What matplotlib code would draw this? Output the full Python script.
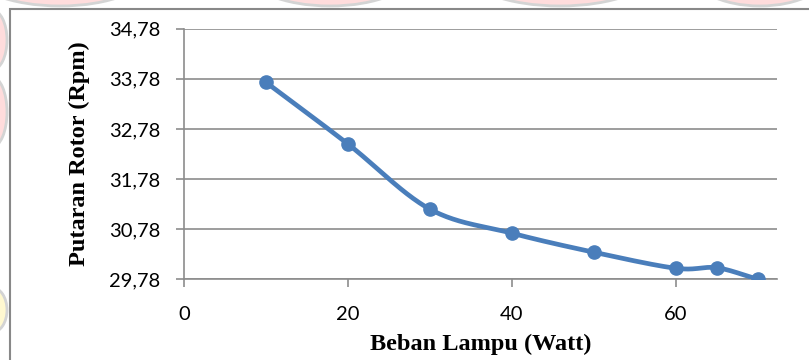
import numpy as np
import matplotlib
matplotlib.use("Agg")
import matplotlib.pyplot as plt
from matplotlib.patches import Rectangle, Ellipse

# Beban lampu (Watt) vs putaran rotor (Rpm)
beban = [10, 20, 30, 40, 50, 60, 65, 70]
putaran = [33.71, 32.48, 31.18, 30.70, 30.32, 30.00, 30.01, 29.78]
y_ticks = [29.78, 30.78, 31.78, 32.78, 33.78, 34.78]
x_ticks = [0, 20, 40, 60]


def smooth_curve(x, y, n=40, tension=0.5):
    """Cardinal spline through the points, similar to a smoothed line."""
    x = np.asarray(x, float)
    y = np.asarray(y, float)
    px = np.concatenate([[2 * x[0] - x[1]], x, [2 * x[-1] - x[-2]]])
    py = np.concatenate([[2 * y[0] - y[1]], y, [2 * y[-1] - y[-2]]])
    xs, ys = [], []
    t = np.linspace(0, 1, n)
    for i in range(1, len(px) - 2):
        m1x = tension * (px[i + 1] - px[i - 1])
        m1y = tension * (py[i + 1] - py[i - 1])
        m2x = tension * (px[i + 2] - px[i])
        m2y = tension * (py[i + 2] - py[i])
        h00 = 2 * t**3 - 3 * t**2 + 1
        h10 = t**3 - 2 * t**2 + t
        h01 = -2 * t**3 + 3 * t**2
        h11 = t**3 - t**2
        xs.append(h00 * px[i] + h10 * m1x + h01 * px[i + 1] + h11 * m2x)
        ys.append(h00 * py[i] + h10 * m1y + h01 * py[i + 1] + h11 * m2y)
    return np.concatenate(xs), np.concatenate(ys)


fig = plt.figure(figsize=(8.09, 3.6), dpi=100)

# faint background behind the chart frame
bg = fig.add_axes([0, 0, 1, 1], zorder=0)
bg.set_xlim(0, 809)
bg.set_ylim(360, 0)
bg.axis("off")
for cx, w in [(60, 180), (330, 170), (560, 190), (760, 140)]:
    bg.add_patch(Ellipse((cx, -30), w, 72, fc="#ffdcdc", ec="#d4d4d4", lw=2))
bg.add_patch(Ellipse((-8, 40), 30, 60, fc="#ffdcdc", ec="#d4d4d4", lw=2))
bg.add_patch(Ellipse((-8, 112), 30, 70, fc="#ffdcdc", ec="#d4d4d4", lw=2))
bg.add_patch(Ellipse((-8, 310), 30, 45, fc="#fff8d0", ec="#d4d4d4", lw=2))
bg.add_patch(Rectangle((10, 9), 820, 360, fc="white", ec="#888888", lw=1.5))

ax = fig.add_axes([184 / 809, 1 - 279.3 / 360, (776.6 - 184) / 809,
                   (279.3 - 28.7) / 360], zorder=1)
ax.patch.set_alpha(0)

sx, sy = smooth_curve(beban, putaran)
ax.plot(sx, sy, color="#4a7ebb", lw=3.4, solid_capstyle="round", zorder=3)
ax.plot(beban, putaran, "o", color="#4a7ebb", ms=9.5, zorder=4)

ax.set_xlim(0, 72.3)
ax.set_ylim(29.78, 34.78)
ax.set_xticks(x_ticks)
ax.set_yticks(y_ticks)
ax.set_yticklabels([f"{v:.2f}".replace(".", ",") for v in y_ticks])
ax.grid(axis="y", color="#8c8c8c", lw=1.2)
ax.set_axisbelow(True)
for side in ["top", "right"]:
    ax.spines[side].set_visible(False)
for side in ["left", "bottom"]:
    ax.spines[side].set_color("#8c8c8c")
    ax.spines[side].set_linewidth(1.2)
ax.tick_params(colors="#8c8c8c", length=6, width=1.2, labelcolor="black",
               labelsize=14.5)
for lbl in ax.get_xticklabels() + ax.get_yticklabels():
    lbl.set_family("Lato")
ax.tick_params(axis="y", pad=11)
ax.tick_params(axis="x", pad=13)

ax.set_xlabel("Beban Lampu (Watt)", family="Liberation Serif",
              fontweight="bold", fontsize=17.5, labelpad=8)
ax.set_ylabel("Putaran Rotor (Rpm)", family="Liberation Serif",
              fontweight="bold", fontsize=17.5, labelpad=14)

fig.savefig("out.png", dpi=100)
